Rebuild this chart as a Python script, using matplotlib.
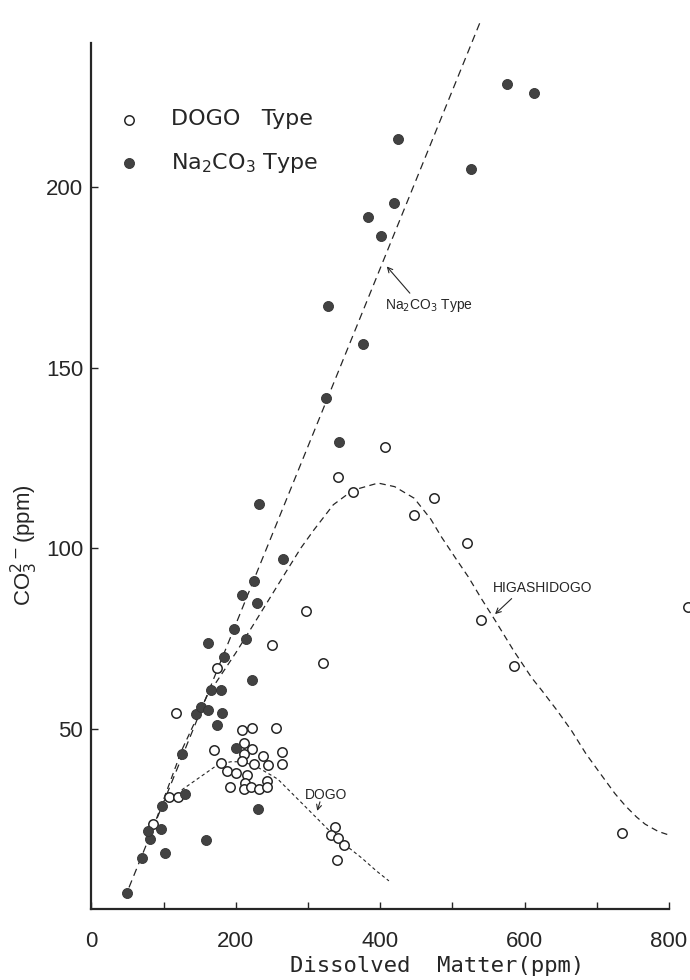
import matplotlib
matplotlib.use('Agg')
import matplotlib.pyplot as plt

plt.rcParams['font.family'] = ['Liberation Sans', 'DejaVu Sans']
plt.rcParams['mathtext.fontset'] = 'custom'
plt.rcParams['mathtext.rm'] = 'DejaVu Sans'
plt.rcParams['mathtext.default'] = 'rm'

# DOGO type springs (open circles): dissolved matter, CO3 (ppm)
dogo_x = [85.6, 107.4, 119.9, 117.6, 170, 173.6, 209, 221.8, 255.5, 211.5,
          223, 210.6, 238, 264, 263.4, 180, 208, 225.5, 244, 187.5,
          200, 216, 212.5, 191.7, 210.7, 220.8, 231.5, 242.6, 243, 249.5,
          321, 297, 337.5, 332, 342, 349.5, 340, 406, 341, 362,
          474, 446.7, 520, 539, 585, 734.7, 826]
dogo_y = [23.5, 31.1, 30.9, 54.3, 44.1, 66.8, 49.6, 50.1, 50.2, 45.9,
          44.3, 43, 42.5, 43.6, 40.2, 40.4, 41.1, 40.2, 40, 38.3,
          37.6, 37.2, 34.8, 33.9, 33.2, 33.9, 33.2, 35.4, 33.7, 73.2,
          68.1, 82.5, 22.8, 20.5, 19.8, 17.7, 13.5, 128.1, 119.6, 115.4,
          114, 109.2, 101.5, 80, 67.2, 21.2, 83.7]

# Na2CO3 type springs (filled circles)
na_x = [48.6, 69.4, 101.8, 81, 78.7, 95.8, 158.8, 98, 130, 125.5,
        200, 230, 173.6, 144.4, 151.4, 162, 180.5, 165.3, 180, 221.8,
        183.8, 162, 213.9, 197.7, 229, 208, 225, 265, 231.5, 342.6,
        325, 376, 328, 383, 401, 418.5, 424.5, 526, 576, 613]
na_y = [4.5, 14.1, 15.6, 19.3, 21.7, 22.1, 19.1, 28.6, 32, 43,
        44.6, 27.7, 51.1, 54.1, 56.1, 55.2, 54.3, 60.7, 60.6, 63.5,
        69.8, 73.7, 74.9, 77.7, 84.9, 87.1, 90.9, 97.1, 112.3, 129.3,
        141.7, 156.4, 167, 191.6, 186.4, 195.7, 213.3, 205, 228.6, 226.1]

# trend lines drawn by hand in the original
na_line_x = [52, 540]
na_line_y = [6, 246.5]

higashi_x = [90, 125, 160, 200, 225, 262, 290, 308, 335, 362, 397, 420, 447,
             470, 485, 505, 522, 540, 559, 585, 610, 624, 645, 665, 685, 702,
             725, 740, 755, 767, 785, 800]
higashi_y = [25, 44, 59, 71, 79, 91, 100, 105, 112, 116, 118, 117, 113.8,
             108, 103, 97, 92, 86, 80, 71.5, 64, 60.5, 55, 49.4, 43, 38.3,
             32, 28.5, 25.5, 23.5, 21.5, 20.5]

dogo_curve_x = [125, 150, 175, 193, 210, 230, 258, 281, 309, 332, 350, 374, 395, 412]
dogo_curve_y = [33, 36.5, 40, 40.8, 40.8, 39.3, 36, 31.4, 25.8, 21.2, 18, 14.2, 10.5, 7.8]

x_ticks = [0, 100, 200, 300, 400, 500, 600, 700, 800]
x_labels = ['0', '', '200', '', '400', '', '600', '', '800']
y_ticks = [50, 100, 150, 200]

ink = '#262626'

fig = plt.figure(figsize=(6.9, 9.8), dpi=100)
ax = fig.add_axes([0.1326, 0.0724, 0.837, 0.9283])

ax.plot(na_line_x, na_line_y, color=ink, lw=0.9, dashes=(6, 4), clip_on=False)
ax.plot(higashi_x, higashi_y, color=ink, lw=0.9, dashes=(5, 3.5))
ax.plot(dogo_curve_x, dogo_curve_y, color=ink, lw=0.8, dashes=(3, 2.5))

open_pts = ax.scatter(dogo_x, dogo_y, s=46, facecolor='white', edgecolor=ink,
                      linewidth=1.1, zorder=3, clip_on=False, label='DOGO   Type')
filled_pts = ax.scatter(na_x, na_y, s=52, facecolor='#424242', edgecolor='#333333',
                        linewidth=0.6, zorder=3, clip_on=False,
                        label='Na$_2$CO$_3$ Type')

ax.set_xlim(0, 800)
ax.set_ylim(0, 252)
ax.spines['top'].set_visible(False)
ax.spines['right'].set_visible(False)
ax.spines['left'].set_bounds(0, 240)
for s in ('left', 'bottom'):
    ax.spines[s].set_linewidth(1.6)
    ax.spines[s].set_color(ink)

ax.set_xticks(x_ticks)
ax.set_xticklabels(x_labels)
ax.set_yticks(y_ticks)
ax.tick_params(axis='x', direction='in', length=5, width=1.0, pad=16,
               labelsize=16, colors=ink)
ax.tick_params(axis='y', direction='in', length=5, width=1.0, pad=6,
               labelsize=16, colors=ink)

ax.text(0.598, -0.052, 'Dissolved  Matter(ppm)', transform=ax.transAxes,
        ha='center', va='top', fontsize=16, family='DejaVu Sans Mono', color=ink)
ax.text(-0.117, 0.40, 'CO$_3^{2-}$(ppm)', transform=ax.transAxes, rotation=90,
        ha='center', va='center', fontsize=16, color=ink)

ax.legend(handles=[open_pts, filled_pts], loc='upper left',
          bbox_to_anchor=(0.046, 0.879), frameon=False,
          prop={'family': 'DejaVu Sans', 'size': 16},
          handlelength=1.0, handletextpad=1.39, labelspacing=0.95, borderpad=0,
          borderaxespad=0, labelcolor=ink)

arrow = dict(arrowstyle='->', color=ink, lw=0.8, shrinkA=0, shrinkB=0,
             mutation_scale=9)
ax.annotate('', xy=(409, 178), xytext=(441, 170.6), arrowprops=arrow)
ax.text(406, 167.3, 'Na$_2$CO$_3$ Type', fontsize=10, ha='left', va='center', color=ink)
ax.annotate('', xy=(559, 81.7), xytext=(582, 86), arrowprops=arrow)
ax.text(555.7, 88.9, 'HIGASHIDOGO', fontsize=10, ha='left', va='center', color=ink)
ax.annotate('', xy=(312.7, 27.2), xytext=(316.5, 29.7), arrowprops=arrow)
ax.text(295.7, 31.6, 'DOGO', fontsize=10, ha='left', va='center', color=ink)

fig.savefig('out.png', dpi=100)
